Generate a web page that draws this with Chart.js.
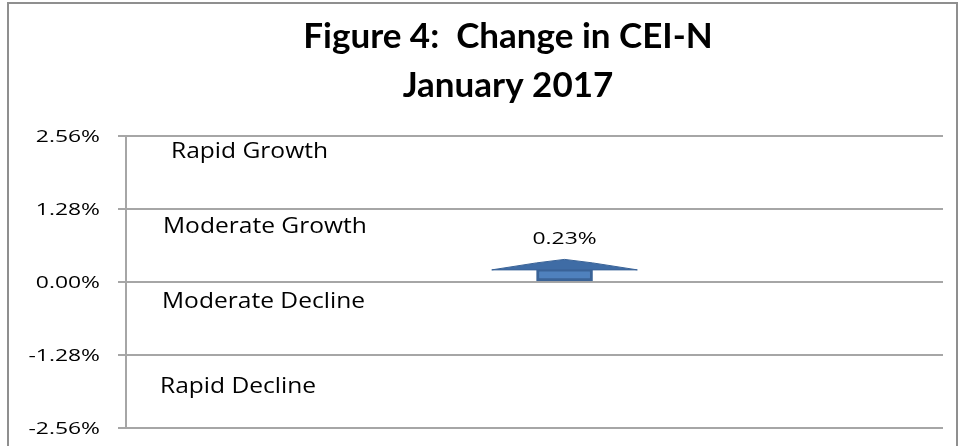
<!DOCTYPE html>
<html><head><meta charset="utf-8">
<script src="https://cdn.jsdelivr.net/npm/chart.js@4.4.1/dist/chart.umd.min.js"></script>
<style>html,body{margin:0;padding:0;background:#fff;overflow:hidden}#wrap{width:963px;height:446px;position:relative}</style>
</head><body><div id="wrap"><canvas id="c"></canvas></div>
<script>
const titleLines = ['Figure 4:  Change in CEI-N', 'January 2017'];
const categories = ['January 2017'];
const changeValues = [0.23];
const valueLabels = ['0.23%'];
const tickValues = [-2.56, -1.28, 0, 1.28, 2.56];
const tickLabels = ['-2.56%', '-1.28%', '0.00%', '1.28%', '2.56%'];
const bandLabels = ['Rapid Growth', 'Moderate Growth', 'Moderate Decline', 'Rapid Decline'];

// styling / placement (not data)
const bandLabelPos = [[171, 158], [163, 233], [162, 308], [160, 393]];
const BODY_FONT = '21px "Open Sans"';
const BODY_SX = 1.17;
const SMALL_FONT = '16px "Open Sans"';
const SMALL_SX = 1.43;

function stretchedText(ctx, text, x, y, sx, align) {
  ctx.save();
  ctx.translate(x, y);
  ctx.scale(sx, 1);
  ctx.textAlign = align || 'left';
  ctx.textBaseline = 'alphabetic';
  ctx.fillText(text, 0, 0);
  ctx.restore();
}

const decorPlugin = {
  id: 'decor',
  beforeDraw(chart) {
    const ctx = chart.ctx;
    ctx.save();
    ctx.fillStyle = '#fff';
    ctx.fillRect(0, 0, chart.width, chart.height);
    ctx.strokeStyle = '#8f8f8f';
    ctx.lineWidth = 2;
    ctx.strokeRect(8, 3, 949, 470);
    ctx.restore();
  },
  afterDraw(chart) {
    const ctx = chart.ctx;
    const ys = chart.scales.y;
    ctx.save();
    ctx.fillStyle = '#000';
    // title
    ctx.font = 'bold 35px Lato';
    ctx.textAlign = 'center';
    ctx.textBaseline = 'alphabetic';
    ctx.fillText(titleLines[0], 508, 48);
    ctx.fillText(titleLines[1], 508, 97);
    // tick labels
    ctx.font = SMALL_FONT;
    ys.ticks.forEach((t) => {
      const idx = tickValues.indexOf(t.value);
      const lbl = idx >= 0 ? tickLabels[idx] : '';
      stretchedText(ctx, lbl, 100, ys.getPixelForValue(t.value) + 6, SMALL_SX, 'right');
    });
    // band labels
    ctx.font = BODY_FONT;
    bandLabels.forEach((b, i) => {
      stretchedText(ctx, b, bandLabelPos[i][0], bandLabelPos[i][1], BODY_SX, 'left');
    });
    ctx.restore();
  },
  afterDatasetsDraw(chart) {
    const ctx = chart.ctx;
    const meta = chart.getDatasetMeta(0);
    ctx.save();
    meta.data.forEach((bar, i) => {
      const p = bar.getProps(['x', 'y', 'base', 'width'], true);
      const half = p.width / 2;
      const headHalf = p.width * 1.3;
      const top = p.y + 1;
      ctx.beginPath();
      ctx.moveTo(p.x - headHalf, top);
      ctx.lineTo(p.x - half, top - 7);
      ctx.lineTo(p.x, top - 10.5);
      ctx.lineTo(p.x + half, top - 7);
      ctx.lineTo(p.x + headHalf, top);
      ctx.closePath();
      ctx.fillStyle = '#3F6CA5';
      ctx.fill();
      ctx.strokeStyle = '#3A6397';
      ctx.lineWidth = 1;
      ctx.stroke();
      ctx.fillStyle = '#000';
      ctx.font = SMALL_FONT;
      stretchedText(ctx, valueLabels[i], p.x, top - 26, SMALL_SX, 'center');
    });
    ctx.restore();
  }
};

new Chart(document.getElementById('c'), {
  type: 'bar',
  data: {
    labels: categories,
    datasets: [{
      label: 'Change in CEI-N',
      data: changeValues.map((v, i) => ({ x: i, y: v })),
      backgroundColor: '#4F81BD',
      borderColor: '#3A6397',
      borderWidth: 3,
      borderSkipped: false,
      barThickness: 56
    }]
  },
  options: {
    responsive: true,
    maintainAspectRatio: false,
    animation: false,
    devicePixelRatio: 1,
    layout: { padding: { top: 136, bottom: 18, left: 0, right: 20 } },
    plugins: { legend: { display: false }, tooltip: { enabled: false }, title: { display: false } },
    scales: {
      x: { type: 'linear', display: false, min: -1, max: 0.863, offset: false },
      y: {
        min: tickValues[0],
        max: tickValues[tickValues.length - 1],
        afterBuildTicks: s => { s.ticks = tickValues.map(v => ({ value: v })); },
        afterFit: s => { s.width = 126; },
        ticks: { display: false },
        grid: { color: '#a6a6a6', lineWidth: 2, tickLength: 8, drawTicks: true },
        border: { display: true, color: '#a6a6a6', width: 2 }
      }
    }
  },
  plugins: [decorPlugin]
});
</script>
</body></html>
